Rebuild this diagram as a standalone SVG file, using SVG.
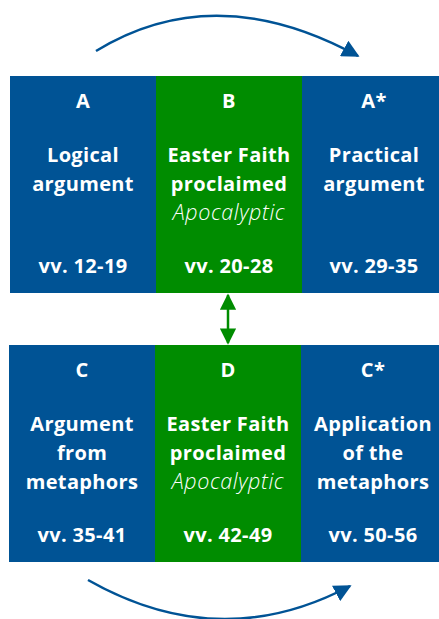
<svg xmlns="http://www.w3.org/2000/svg" width="439" height="619" viewBox="0 0 439 619">
<style>
.blue{fill:#005395}
.green{fill:#008C00}
.t{font-family:"Open Sans",Lato,"Liberation Sans",sans-serif;font-weight:bold;font-size:20px;letter-spacing:0.35px;fill:#fff;text-anchor:middle}
.i{font-family:"Open Sans",Lato,"Liberation Sans",sans-serif;font-weight:300;font-style:italic;font-size:21.5px;letter-spacing:0.6px;fill:#fff;text-anchor:middle}
.arc{fill:none;stroke:#005395;stroke-width:2.5}
.g{fill:none;stroke:#008C00;stroke-width:2.5}
</style>
<defs>
<marker id="ab" viewBox="0 0 10 10" refX="9" refY="5" markerWidth="7" markerHeight="7" markerUnits="strokeWidth" orient="auto"><path d="M0,0 L10,5 L0,10 z" fill="#005395"/></marker>
<marker id="ag" viewBox="0 0 10 10" refX="9" refY="5" markerWidth="6.5" markerHeight="6.5" markerUnits="strokeWidth" orient="auto-start-reverse"><path d="M0,0 L10,5 L0,10 z" fill="#008C00"/></marker>
</defs>
<g id="nodeA"><rect class="blue" x="10" y="76" width="146" height="217"/>
<text class="t" x="83" y="108">A</text><text class="t" x="83" y="162">Logical</text><text class="t" x="83" y="191">argument</text><text class="t" x="83" y="273">vv. 12-19</text></g>
<g id="nodeB"><rect class="green" x="156" y="76" width="146" height="217"/>
<text class="t" x="229" y="108">B</text><text class="t" x="229" y="162">Easter Faith</text><text class="t" x="229" y="191">proclaimed</text><text class="i" x="229" y="220">Apocalyptic</text><text class="t" x="229" y="273">vv. 20-28</text></g>
<g id="nodeA2"><rect class="blue" x="302" y="76" width="137" height="217"/>
<text class="t" x="374" y="108">A*</text><text class="t" x="374" y="162">Practical</text><text class="t" x="374" y="191">argument</text><text class="t" x="374" y="273">vv. 29-35</text></g>
<g id="nodeC"><rect class="blue" x="9" y="345" width="146" height="217"/>
<text class="t" x="82" y="377">C</text><text class="t" x="82" y="431">Argument</text><text class="t" x="82" y="460">from</text><text class="t" x="82" y="489">metaphors</text><text class="t" x="82" y="542">vv. 35-41</text></g>
<g id="nodeD"><rect class="green" x="155" y="345" width="146" height="217"/>
<text class="t" x="228" y="377">D</text><text class="t" x="228" y="431">Easter Faith</text><text class="t" x="228" y="460">proclaimed</text><text class="i" x="228" y="489">Apocalyptic</text><text class="t" x="228" y="542">vv. 42-49</text></g>
<g id="nodeC2"><rect class="blue" x="301" y="345" width="138" height="217"/>
<text class="t" x="373" y="377">C*</text><text class="t" x="373" y="431">Application</text><text class="t" x="373" y="460">of the</text><text class="t" x="373" y="489">metaphors</text><text class="t" x="373" y="542">vv. 50-56</text></g>
<g id="connectors">
<path class="arc" d="M96,51 Q215,-22 358,56" marker-end="url(#ab)"/>
<path class="arc" d="M88,580 Q220,655 350,586" marker-end="url(#ab)"/>
<path class="g" d="M228,295 L228,343" marker-start="url(#ag)" marker-end="url(#ag)"/>
</g>
</svg>
